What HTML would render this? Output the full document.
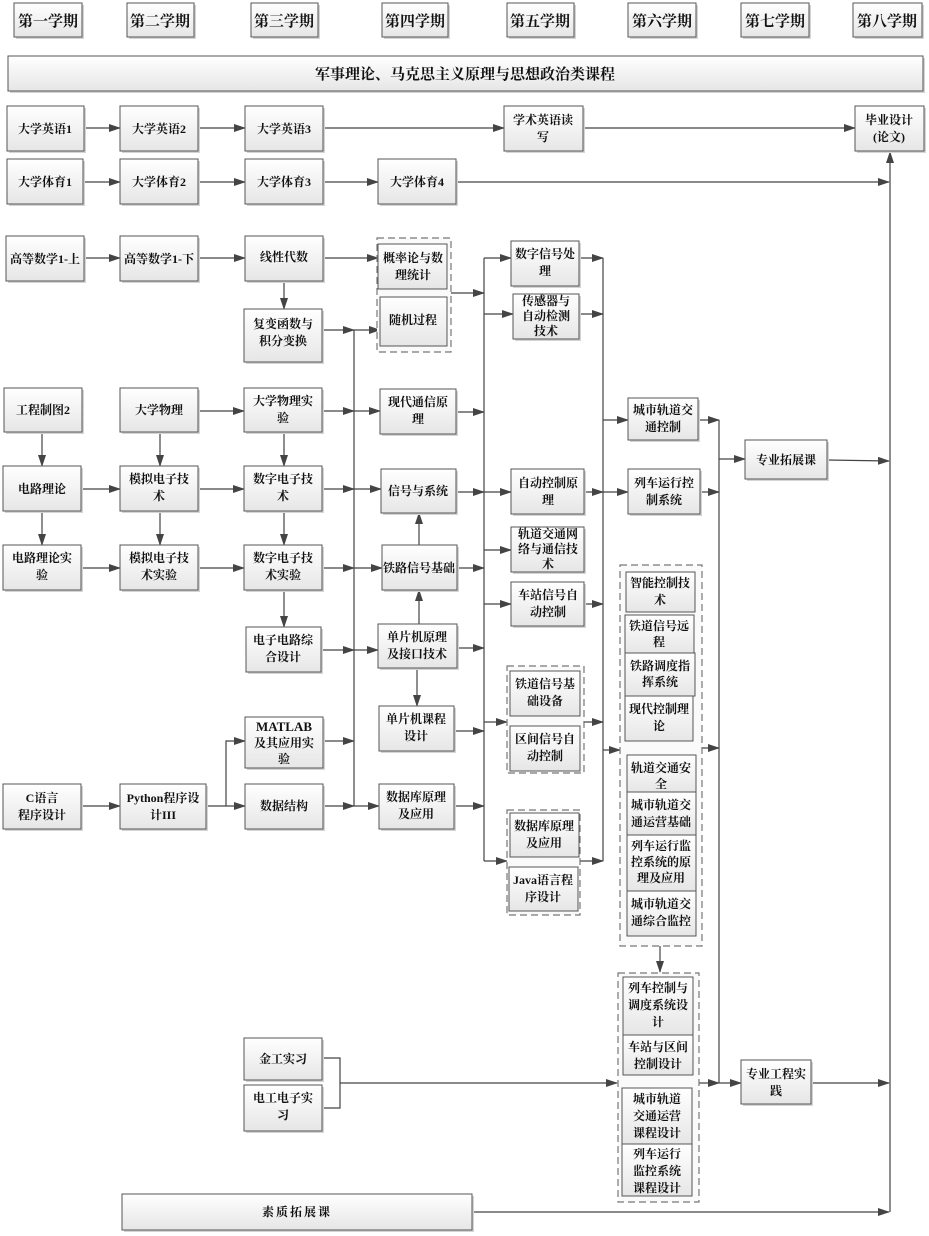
<!DOCTYPE html>
<html><head><meta charset="utf-8"><style>
html,body{margin:0;padding:0;background:#fff;}
svg{display:block;}
text{font-family:"Liberation Serif","Noto Serif CJK SC",serif;font-weight:bold;font-size:12px;fill:#111;text-anchor:middle;}
.b{fill:url(#g);stroke:#555;stroke-width:1;}
.sh{fill:#d4d4d4;}
.l{stroke:#444;stroke-width:1.2;fill:none;}
.d{fill:#fafafa;stroke:#777;stroke-width:1.2;stroke-dasharray:7,4;}
</style></head><body>
<svg width="929" height="1236" viewBox="0 0 929 1236" xmlns="http://www.w3.org/2000/svg">
<defs>
<linearGradient id="g" x1="0" y1="0" x2="0" y2="1"><stop offset="0" stop-color="#ffffff"/><stop offset="1" stop-color="#e6e6e6"/></linearGradient>
<marker id="a" markerWidth="12" markerHeight="8" refX="11" refY="4" orient="auto" markerUnits="userSpaceOnUse"><path d="M0,0 L12,4 L0,8 z" fill="#444"/></marker>
</defs>

<!-- headers -->
<g>
<rect class="sh" x="16" y="5" width="68" height="34"/><rect class="b" x="14" y="3" width="68" height="34"/><text x="48" y="26" style="font-size:15px">第一学期</text>
<rect class="sh" x="129" y="5" width="67" height="34"/><rect class="b" x="127" y="3" width="67" height="34"/><text x="160" y="26" style="font-size:15px">第二学期</text>
<rect class="sh" x="253" y="5" width="67" height="34"/><rect class="b" x="251" y="3" width="67" height="34"/><text x="284" y="26" style="font-size:15px">第三学期</text>
<rect class="sh" x="384" y="5" width="66" height="34"/><rect class="b" x="382" y="3" width="66" height="34"/><text x="415" y="26" style="font-size:15px">第四学期</text>
<rect class="sh" x="509" y="5" width="67" height="34"/><rect class="b" x="507" y="3" width="67" height="34"/><text x="540" y="26" style="font-size:15px">第五学期</text>
<rect class="sh" x="630" y="5" width="68" height="34"/><rect class="b" x="628" y="3" width="68" height="34"/><text x="662" y="26" style="font-size:15px">第六学期</text>
<rect class="sh" x="743" y="5" width="68" height="34"/><rect class="b" x="741" y="3" width="68" height="34"/><text x="775" y="26" style="font-size:15px">第七学期</text>
<rect class="sh" x="855" y="5" width="69" height="34"/><rect class="b" x="853" y="3" width="69" height="34"/><text x="887" y="26" style="font-size:15px">第八学期</text>
</g>
<rect class="sh" x="10" y="58" width="915" height="35"/><rect class="b" x="8" y="56" width="915" height="35"/>
<text x="465" y="79" style="font-size:15px">军事理论、马克思主义原理与思想政治类课程</text>

<!-- connectors -->
<g class="l">
<line x1="84" y1="128" x2="120" y2="128" marker-end="url(#a)"/>
<line x1="198" y1="128" x2="245" y2="128" marker-end="url(#a)"/>
<line x1="323" y1="128" x2="504" y2="128" marker-end="url(#a)"/>
<line x1="583" y1="128" x2="855" y2="128" marker-end="url(#a)"/>
<line x1="83" y1="182" x2="120" y2="182" marker-end="url(#a)"/>
<line x1="198" y1="182" x2="245" y2="182" marker-end="url(#a)"/>
<line x1="323" y1="182" x2="378" y2="182" marker-end="url(#a)"/>
<line x1="456" y1="182" x2="889" y2="182" marker-end="url(#a)"/>
<line x1="890" y1="1212" x2="890" y2="152" marker-end="url(#a)"/>
<line x1="84" y1="258" x2="120" y2="258" marker-end="url(#a)"/>
<line x1="198" y1="258" x2="245" y2="258" marker-end="url(#a)"/>
<line x1="323" y1="258" x2="378" y2="258" marker-end="url(#a)"/>
<line x1="284" y1="281" x2="284" y2="309" marker-end="url(#a)"/>
<line x1="322" y1="330" x2="354" y2="330" marker-end="url(#a)"/>
<line x1="354" y1="330" x2="380" y2="330" marker-end="url(#a)"/>
<line x1="354" y1="330" x2="354" y2="806"/>
<line x1="451" y1="293" x2="484" y2="293" marker-end="url(#a)"/>
<line x1="484" y1="258" x2="484" y2="861"/>
<!-- col3 -> 354 -> col4 -->
<line x1="42" y1="432" x2="42" y2="466" marker-end="url(#a)"/>
<line x1="42" y1="511" x2="42" y2="545" marker-end="url(#a)"/>
<line x1="160" y1="432" x2="160" y2="466" marker-end="url(#a)"/>
<line x1="160" y1="511" x2="160" y2="545" marker-end="url(#a)"/>
<line x1="284" y1="432" x2="284" y2="466" marker-end="url(#a)"/>
<line x1="284" y1="511" x2="284" y2="545" marker-end="url(#a)"/>
<line x1="284" y1="590" x2="284" y2="627" marker-end="url(#a)"/>
<line x1="198" y1="411" x2="244" y2="411" marker-end="url(#a)"/>
<line x1="81" y1="489" x2="120" y2="489" marker-end="url(#a)"/>
<line x1="198" y1="489" x2="244" y2="489" marker-end="url(#a)"/>
<line x1="81" y1="568" x2="120" y2="568" marker-end="url(#a)"/>
<line x1="198" y1="568" x2="244" y2="568" marker-end="url(#a)"/>
<line x1="81" y1="806" x2="120" y2="806" marker-end="url(#a)"/>
<line x1="206" y1="806" x2="245" y2="806" marker-end="url(#a)"/>
<polyline points="226,806 226,741 245,741" marker-end="url(#a)"/>
<line x1="322" y1="411" x2="354" y2="411" marker-end="url(#a)"/>
<line x1="322" y1="489" x2="354" y2="489" marker-end="url(#a)"/>
<line x1="322" y1="568" x2="354" y2="568" marker-end="url(#a)"/>
<line x1="321" y1="650" x2="354" y2="650" marker-end="url(#a)"/>
<line x1="323" y1="741" x2="354" y2="741" marker-end="url(#a)"/>
<line x1="323" y1="806" x2="354" y2="806" marker-end="url(#a)"/>
<line x1="354" y1="411" x2="380" y2="411" marker-end="url(#a)"/>
<line x1="354" y1="489" x2="381" y2="489" marker-end="url(#a)"/>
<line x1="354" y1="568" x2="382" y2="568" marker-end="url(#a)"/>
<line x1="354" y1="650" x2="378" y2="650" marker-end="url(#a)"/>
<line x1="354" y1="806" x2="379" y2="806" marker-end="url(#a)"/>
<line x1="419" y1="545" x2="419" y2="513" marker-end="url(#a)"/>
<line x1="419" y1="624" x2="419" y2="590" marker-end="url(#a)"/>
<line x1="417" y1="668" x2="417" y2="706" marker-end="url(#a)"/>
<!-- col4 -> 484 -->
<line x1="456" y1="412" x2="484" y2="412" marker-end="url(#a)"/>
<line x1="456" y1="492" x2="484" y2="492" marker-end="url(#a)"/>
<line x1="457" y1="568" x2="484" y2="568" marker-end="url(#a)"/>
<line x1="457" y1="648" x2="484" y2="648" marker-end="url(#a)"/>
<line x1="454" y1="731" x2="484" y2="731" marker-end="url(#a)"/>
<line x1="454" y1="806" x2="484" y2="806" marker-end="url(#a)"/>
<!-- 484 -> col5 -->
<line x1="484" y1="258" x2="511" y2="258" marker-end="url(#a)"/>
<line x1="484" y1="314" x2="513" y2="314" marker-end="url(#a)"/>
<line x1="484" y1="492" x2="511" y2="492" marker-end="url(#a)"/>
<line x1="484" y1="550" x2="511" y2="550" marker-end="url(#a)"/>
<line x1="484" y1="604" x2="511" y2="604" marker-end="url(#a)"/>
<line x1="484" y1="722" x2="507" y2="722" marker-end="url(#a)"/>
<line x1="484" y1="861" x2="507" y2="861" marker-end="url(#a)"/>
<!-- col5 -> 603 -->
<line x1="579" y1="258" x2="603" y2="258" marker-end="url(#a)"/>
<line x1="579" y1="314" x2="603" y2="314" marker-end="url(#a)"/>
<line x1="584" y1="492" x2="603" y2="492" marker-end="url(#a)"/>
<line x1="584" y1="604" x2="603" y2="604" marker-end="url(#a)"/>
<line x1="584" y1="722" x2="603" y2="722" marker-end="url(#a)"/>
<line x1="580" y1="861" x2="603" y2="861" marker-end="url(#a)"/>
<line x1="603" y1="258" x2="603" y2="861"/>
<line x1="603" y1="420" x2="628" y2="420" marker-end="url(#a)"/>
<line x1="603" y1="492" x2="628" y2="492" marker-end="url(#a)"/>
<line x1="603" y1="750" x2="620" y2="750" marker-end="url(#a)"/>
<!-- col6 -> 719 -->
<line x1="698" y1="420" x2="719" y2="420" marker-end="url(#a)"/>
<line x1="700" y1="492" x2="719" y2="492" marker-end="url(#a)"/>
<line x1="702" y1="748" x2="719" y2="748" marker-end="url(#a)"/>
<line x1="719" y1="420" x2="719" y2="1083"/>
<line x1="719" y1="459" x2="745" y2="459" marker-end="url(#a)"/>
<line x1="827" y1="460" x2="889" y2="461" marker-end="url(#a)"/>
<line x1="660" y1="946" x2="660" y2="972" marker-end="url(#a)"/>
<polyline points="322,1058 340,1058 340,1108 322,1108"/>
<line x1="340" y1="1083" x2="617" y2="1083" marker-end="url(#a)"/>
<line x1="699" y1="1083" x2="719" y2="1083" marker-end="url(#a)"/>
<line x1="719" y1="1083" x2="741" y2="1083" marker-end="url(#a)"/>
<line x1="811" y1="1083" x2="889" y2="1083" marker-end="url(#a)"/>
<line x1="472" y1="1212" x2="889" y2="1212" marker-end="url(#a)"/>
</g>

<!-- dashed groups -->
<rect class="d" x="377" y="238" width="74" height="114"/>
<rect class="d" x="507" y="666" width="77" height="107"/>
<rect class="d" x="507" y="810" width="73" height="105"/>
<rect class="d" x="620" y="565" width="82" height="381"/>
<rect class="d" x="618" y="973" width="81" height="229"/>

<!-- boxes -->
<g>
<rect class="sh" x="9" y="108" width="77" height="45"/><rect class="b" x="7" y="106" width="77" height="45"/><text x="45" y="133">大学英语1</text>
<rect class="sh" x="122" y="108" width="78" height="45"/><rect class="b" x="120" y="106" width="78" height="45"/><text x="159" y="133">大学英语2</text>
<rect class="sh" x="247" y="108" width="78" height="45"/><rect class="b" x="245" y="106" width="78" height="45"/><text x="284" y="133">大学英语3</text>
<rect class="sh" x="506" y="108" width="79" height="45"/><rect class="b" x="504" y="106" width="79" height="45"/><text x="543" y="124">学术英语读</text><text x="543" y="141">写</text>
<rect class="sh" x="857" y="108" width="69" height="45"/><rect class="b" x="855" y="106" width="69" height="45"/><text x="889" y="124">毕业设计</text><text x="889" y="141">(论文)</text>

<rect class="sh" x="9" y="161" width="76" height="45"/><rect class="b" x="7" y="159" width="76" height="45"/><text x="45" y="186">大学体育1</text>
<rect class="sh" x="122" y="161" width="78" height="45"/><rect class="b" x="120" y="159" width="78" height="45"/><text x="159" y="186">大学体育2</text>
<rect class="sh" x="247" y="161" width="78" height="45"/><rect class="b" x="245" y="159" width="78" height="45"/><text x="284" y="186">大学体育3</text>
<rect class="sh" x="380" y="161" width="78" height="45"/><rect class="b" x="378" y="159" width="78" height="45"/><text x="417" y="186">大学体育4</text>

<rect class="sh" x="8" y="238" width="78" height="45"/><rect class="b" x="6" y="236" width="78" height="45"/><text x="45" y="263">高等数学1-上</text>
<rect class="sh" x="122" y="238" width="78" height="45"/><rect class="b" x="120" y="236" width="78" height="45"/><text x="159" y="263">高等数学1-下</text>
<rect class="sh" x="247" y="238" width="78" height="45"/><rect class="b" x="245" y="236" width="78" height="45"/><text x="284" y="261">线性代数</text>
<rect class="sh" x="246" y="311" width="78" height="53"/><rect class="b" x="244" y="309" width="78" height="53"/><text x="283" y="328">复变函数与</text><text x="283" y="345">积分变换</text>
<rect class="b" x="378" y="244" width="69" height="45"/><text x="413" y="262">概率论与数</text><text x="413" y="279">理统计</text>
<rect class="b" x="380" y="297" width="67" height="49"/><text x="413" y="324">随机过程</text>

<rect class="sh" x="6" y="390" width="78" height="44"/><rect class="b" x="4" y="388" width="78" height="44"/><text x="43" y="414">工程制图2</text>
<rect class="sh" x="122" y="390" width="78" height="44"/><rect class="b" x="120" y="388" width="78" height="44"/><text x="159" y="414">大学物理</text>
<rect class="sh" x="246" y="390" width="78" height="44"/><rect class="b" x="244" y="388" width="78" height="44"/><text x="283" y="405">大学物理实</text><text x="283" y="422">验</text>
<rect class="sh" x="382" y="391" width="76" height="45"/><rect class="b" x="380" y="389" width="76" height="45"/><text x="418" y="406">现代通信原</text><text x="418" y="423">理</text>

<rect class="sh" x="5" y="468" width="78" height="45"/><rect class="b" x="3" y="466" width="78" height="45"/><text x="42" y="493">电路理论</text>
<rect class="sh" x="122" y="468" width="78" height="45"/><rect class="b" x="120" y="466" width="78" height="45"/><text x="159" y="483">模拟电子技</text><text x="159" y="500">术</text>
<rect class="sh" x="246" y="468" width="78" height="45"/><rect class="b" x="244" y="466" width="78" height="45"/><text x="283" y="483">数字电子技</text><text x="283" y="500">术</text>
<rect class="sh" x="383" y="471" width="75" height="44"/><rect class="b" x="381" y="469" width="75" height="44"/><text x="418" y="495">信号与系统</text>

<rect class="sh" x="5" y="547" width="78" height="45"/><rect class="b" x="3" y="545" width="78" height="45"/><text x="42" y="562">电路理论实</text><text x="42" y="579">验</text>
<rect class="sh" x="122" y="547" width="78" height="45"/><rect class="b" x="120" y="545" width="78" height="45"/><text x="159" y="562">模拟电子技</text><text x="159" y="579">术实验</text>
<rect class="sh" x="246" y="547" width="78" height="45"/><rect class="b" x="244" y="545" width="78" height="45"/><text x="283" y="562">数字电子技</text><text x="283" y="579">术实验</text>
<rect class="sh" x="384" y="547" width="75" height="45"/><rect class="b" x="382" y="545" width="75" height="45"/><text x="419" y="572">铁路信号基础</text>

<rect class="sh" x="248" y="629" width="75" height="45"/><rect class="b" x="246" y="627" width="75" height="45"/><text x="283" y="644">电子电路综</text><text x="283" y="661">合设计</text>
<rect class="sh" x="380" y="626" width="79" height="44"/><rect class="b" x="378" y="624" width="79" height="44"/><text x="417" y="641">单片机原理</text><text x="417" y="658">及接口技术</text>
<rect class="sh" x="381" y="708" width="75" height="45"/><rect class="b" x="379" y="706" width="75" height="45"/><text x="416" y="723">单片机课程</text><text x="416" y="740">设计</text>

<rect class="sh" x="247" y="719" width="78" height="51"/><rect class="b" x="245" y="717" width="78" height="51"/><text x="284" y="731" style="font-size:13px">MATLAB</text><text x="284" y="747">及其应用实</text><text x="284" y="763">验</text>
<rect class="sh" x="5" y="786" width="78" height="45"/><rect class="b" x="3" y="784" width="78" height="45"/><text x="42" y="802">C语言</text><text x="42" y="819">程序设计</text>
<rect class="sh" x="122" y="786" width="86" height="45"/><rect class="b" x="120" y="784" width="86" height="45"/><text x="163" y="802">Python程序设</text><text x="163" y="819">计III</text>
<rect class="sh" x="247" y="786" width="78" height="45"/><rect class="b" x="245" y="784" width="78" height="45"/><text x="284" y="810">数据结构</text>
<rect class="sh" x="381" y="786" width="75" height="45"/><rect class="b" x="379" y="784" width="75" height="45"/><text x="416" y="801">数据库原理</text><text x="416" y="818">及应用</text>

<!-- col5 -->
<rect class="sh" x="513" y="243" width="68" height="45"/><rect class="b" x="511" y="241" width="68" height="45"/><text x="545" y="258">数字信号处</text><text x="545" y="275">理</text>
<rect class="sh" x="515" y="296" width="66" height="45"/><rect class="b" x="513" y="294" width="66" height="45"/><text x="546" y="305">传感器与</text><text x="546" y="320">自动检测</text><text x="546" y="335">技术</text>
<rect class="sh" x="513" y="471" width="73" height="45"/><rect class="b" x="511" y="469" width="73" height="45"/><text x="548" y="487">自动控制原</text><text x="548" y="504">理</text>
<rect class="sh" x="513" y="529" width="73" height="45"/><rect class="b" x="511" y="527" width="73" height="45"/><text x="548" y="538">轨道交通网</text><text x="548" y="553">络与通信技</text><text x="548" y="568">术</text>
<rect class="sh" x="513" y="584" width="73" height="44"/><rect class="b" x="511" y="582" width="73" height="44"/><text x="548" y="599">车站信号自</text><text x="548" y="616">动控制</text>
<rect class="b" x="510" y="671" width="70" height="45"/><text x="545" y="688">铁道信号基</text><text x="545" y="705">础设备</text>
<rect class="b" x="510" y="726" width="70" height="45"/><text x="545" y="743">区间信号自</text><text x="545" y="760">动控制</text>
<rect class="b" x="510" y="813" width="69" height="44"/><text x="544" y="830">数据库原理</text><text x="544" y="847">及应用</text>
<rect class="b" x="509" y="867" width="69" height="44"/><text x="543" y="884">Java语言程</text><text x="543" y="901">序设计</text>

<!-- col6 -->
<rect class="sh" x="630" y="400" width="70" height="42"/><rect class="b" x="628" y="398" width="70" height="42"/><text x="663" y="414">城市轨道交</text><text x="663" y="431">通控制</text>
<rect class="sh" x="630" y="471" width="72" height="45"/><rect class="b" x="628" y="469" width="72" height="45"/><text x="664" y="487">列车运行控</text><text x="664" y="504">制系统</text>
<rect class="b" x="626" y="572" width="69" height="40"/><text x="660" y="587">智能控制技</text><text x="660" y="604">术</text>
<rect class="b" x="625" y="615" width="69" height="38"/><text x="659" y="630">铁道信号远</text><text x="659" y="646">程</text>
<rect class="b" x="625" y="653" width="70" height="43"/><text x="660" y="670">铁路调度指</text><text x="660" y="686">挥系统</text>
<rect class="b" x="625" y="696" width="68" height="45"/><text x="659" y="713">现代控制理</text><text x="659" y="730">论</text>
<rect class="b" x="627" y="755" width="69" height="37"/><text x="661" y="772">轨道交通安</text><text x="661" y="788">全</text>
<rect class="b" x="627" y="792" width="69" height="43"/><text x="661" y="809">城市轨道交</text><text x="661" y="826">通运营基础</text>
<rect class="b" x="627" y="835" width="69" height="56"/><text x="661" y="850">列车运行监</text><text x="661" y="866">控系统的原</text><text x="661" y="882">理及应用</text>
<rect class="b" x="627" y="891" width="69" height="45"/><text x="661" y="908">城市轨道交</text><text x="661" y="925">通综合监控</text>
<rect class="b" x="623" y="977" width="70" height="58"/><text x="658" y="992">列车控制与</text><text x="658" y="1009">调度系统设</text><text x="658" y="1026">计</text>
<rect class="b" x="623" y="1035" width="70" height="40"/><text x="658" y="1051">车站与区间</text><text x="658" y="1068">控制设计</text>
<rect class="b" x="622" y="1088" width="70" height="56"/><text x="657" y="1103">城市轨道</text><text x="657" y="1120">交通运营</text><text x="657" y="1137">课程设计</text>
<rect class="b" x="622" y="1144" width="70" height="52"/><text x="657" y="1158">列车运行</text><text x="657" y="1175">监控系统</text><text x="657" y="1192">课程设计</text>

<rect class="sh" x="747" y="442" width="82" height="39"/><rect class="b" x="745" y="440" width="82" height="39"/><text x="786" y="464">专业拓展课</text>
<rect class="sh" x="743" y="1062" width="70" height="44"/><rect class="b" x="741" y="1060" width="70" height="44"/><text x="776" y="1078">专业工程实</text><text x="776" y="1095">践</text>

<rect class="sh" x="246" y="1040" width="78" height="42"/><rect class="b" x="244" y="1038" width="78" height="42"/><text x="283" y="1063">金工实习</text>
<rect class="sh" x="246" y="1087" width="78" height="46"/><rect class="b" x="244" y="1085" width="78" height="46"/><text x="283" y="1102">电工电子实</text><text x="283" y="1119">习</text>
<rect class="sh" x="124" y="1196" width="350" height="36"/><rect class="b" x="122" y="1194" width="350" height="36"/><text x="297" y="1216" style="letter-spacing:2px">素质拓展课</text>
</g>
</svg>
</body></html>
